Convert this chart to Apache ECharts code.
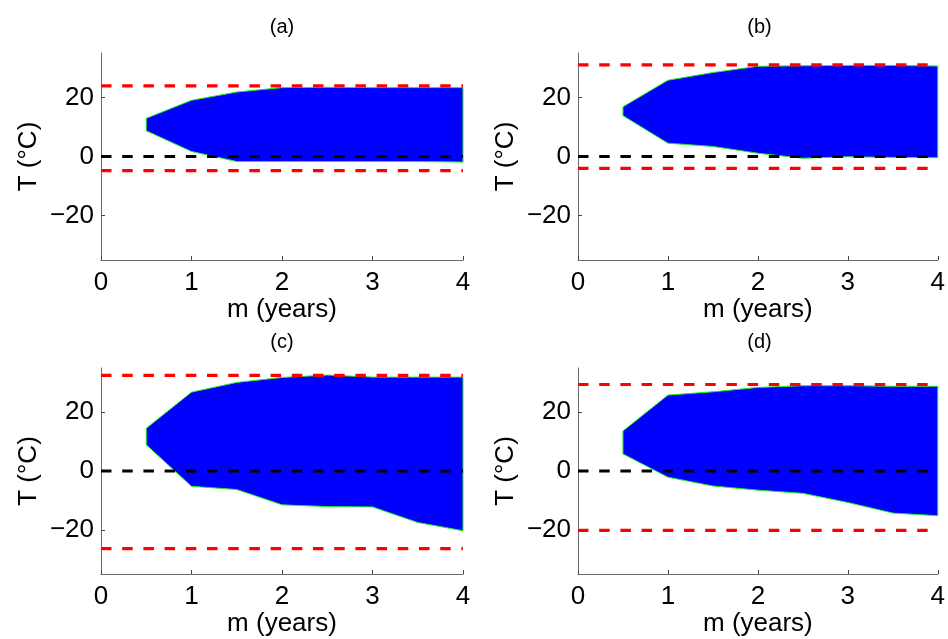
<!DOCTYPE html>
<html>
<head>
<meta charset="utf-8">
<script src="https://cdn.jsdelivr.net/npm/echarts@6/dist/echarts.min.js"></script>
<style>html,body{margin:0;padding:0;background:#fff}#c{width:948px;height:639px}</style>
</head>
<body>
<div id="c"></div>
<script>
// ---- data ----
const panelTitles = ['(a)', '(b)', '(c)', '(d)'];
const xs = [0.5, 1, 1.5, 2, 2.5, 3, 3.5, 4];
const upperA = [12.9, 19.0, 21.8, 23.3, 23.4, 23.3, 23.3, 23.3];
const lowerA = [8.7, 1.7, -1.7, -1.7, -1.7, -1.7, -1.7, -1.9];
const upperB = [16.8, 25.8, 28.4, 30.5, 30.7, 30.8, 30.8, 30.6];
const lowerB = [13.8, 4.5, 3.4, 1.1, -0.6, -0.1, -0.3, -0.4];
const upperC = [14.5, 26.8, 30.1, 31.8, 32.6, 31.9, 31.9, 31.9];
const lowerC = [8.9, -5.2, -6.3, -11.5, -12.1, -12.2, -17.5, -20.3];
const upperD = [13.6, 25.8, 26.9, 28.4, 29.0, 29.0, 28.8, 28.8];
const lowerD = [5.8, -2.1, -5.1, -6.5, -7.6, -10.7, -14.3, -15.2];
const limitHigh = [23.9, 31.0, 32.5, 29.4];
const limitLow = [-4.8, -4.0, -26.4, -20.2];
const zeroLine = 0;
const xTicks = [0, 1, 2, 3, 4];
const yTicks = [-20, 0, 20];
const xRange = [0, 4];
const yRange = [-35, 35];

const uppers = [upperA, upperB, upperC, upperD];
const lowers = [lowerA, lowerB, lowerC, lowerD];

// ---- layout ----
const grids = [
  {left: 101, top: 53, width: 362, height: 207},
  {left: 578, top: 53, width: 363, height: 207},
  {left: 101, top: 368, width: 362, height: 206},
  {left: 578, top: 368, width: 363, height: 206}
];
const FONT = 'Liberation Sans, Arial, sans-serif';
const dash = [10.5, 10.7];

const chart = echarts.init(document.getElementById('c'), null, {renderer: 'canvas'});

const option = {
  backgroundColor: '#fff',
  animation: false,
  title: grids.map((g, i) => ({
    text: panelTitles[i],
    left: g.left + g.width / 2,
    top: g.top - 36,
    textAlign: 'center',
    padding: 0,
    textStyle: {fontFamily: FONT, fontSize: 20, fontWeight: 'normal', color: '#000'}
  })),
  grid: grids.map(g => Object.assign({containLabel: false}, g)),
  xAxis: grids.map((g, i) => ({
    gridIndex: i, type: 'value', min: xRange[0], max: xRange[1], interval: 1,
    name: 'm (years)', nameLocation: 'middle', nameGap: 37,
    nameTextStyle: {fontFamily: FONT, fontSize: 26, color: '#000'},
    axisLine: {show: true, onZero: false, lineStyle: {color: '#6a6a6a', width: 1}},
    axisTick: {show: true, inside: true, length: 4, lineStyle: {color: '#444', width: 1}, customValues: xTicks},
    axisLabel: {fontFamily: FONT, fontSize: 26, color: '#000', margin: 10, customValues: xTicks},
    splitLine: {show: false}
  })),
  yAxis: grids.map((g, i) => ({
    gridIndex: i, type: 'value', min: yRange[0], max: yRange[1],
    name: 'T (°C)', nameLocation: 'middle', nameGap: 59, nameRotate: 90,
    nameTextStyle: {fontFamily: FONT, fontSize: 26, color: '#000'},
    axisLine: {show: true, onZero: false, lineStyle: {color: '#6a6a6a', width: 1}},
    axisTick: {show: true, inside: true, length: 4, lineStyle: {color: '#444', width: 1}, customValues: yTicks},
    axisLabel: {fontFamily: FONT, fontSize: 26, color: '#000', margin: 7, customValues: yTicks,
      formatter: v => v < 0 ? '\u2212' + Math.abs(v) : String(v)},
    splitLine: {show: false}
  })),
  series: []
};

grids.forEach((g, i) => {
  const up = uppers[i], lo = lowers[i];
  option.series.push({
    type: 'custom', xAxisIndex: i, yAxisIndex: i, z: 1,
    data: xs.map((x, k) => [x, lo[k], up[k]]),
    encode: {x: 0, y: [1, 2]},
    renderItem: function (params, api) {
      if (params.dataIndex !== 0) return null;
      const pts = [];
      for (let k = 0; k < xs.length; k++) pts.push(api.coord([xs[k], up[k]]));
      for (let k = xs.length - 1; k >= 0; k--) pts.push(api.coord([xs[k], lo[k]]));
      return {type: 'polygon', shape: {points: pts},
        style: {fill: '#0000ff', stroke: '#22ee22', lineWidth: 1}};
    }
  });
  const hline = (v, color) => ({
    type: 'line', xAxisIndex: i, yAxisIndex: i, z: 5, symbol: 'none', silent: true,
    data: [[xRange[0], v], [xRange[1], v]],
    lineStyle: {color: color, width: 3.2, type: dash, cap: 'butt'}
  });
  option.series.push(hline(limitHigh[i], '#ff0000'));
  option.series.push(hline(limitLow[i], '#ff0000'));
  option.series.push(hline(zeroLine, '#000000'));
});

chart.setOption(option);
</script>
</body>
</html>
